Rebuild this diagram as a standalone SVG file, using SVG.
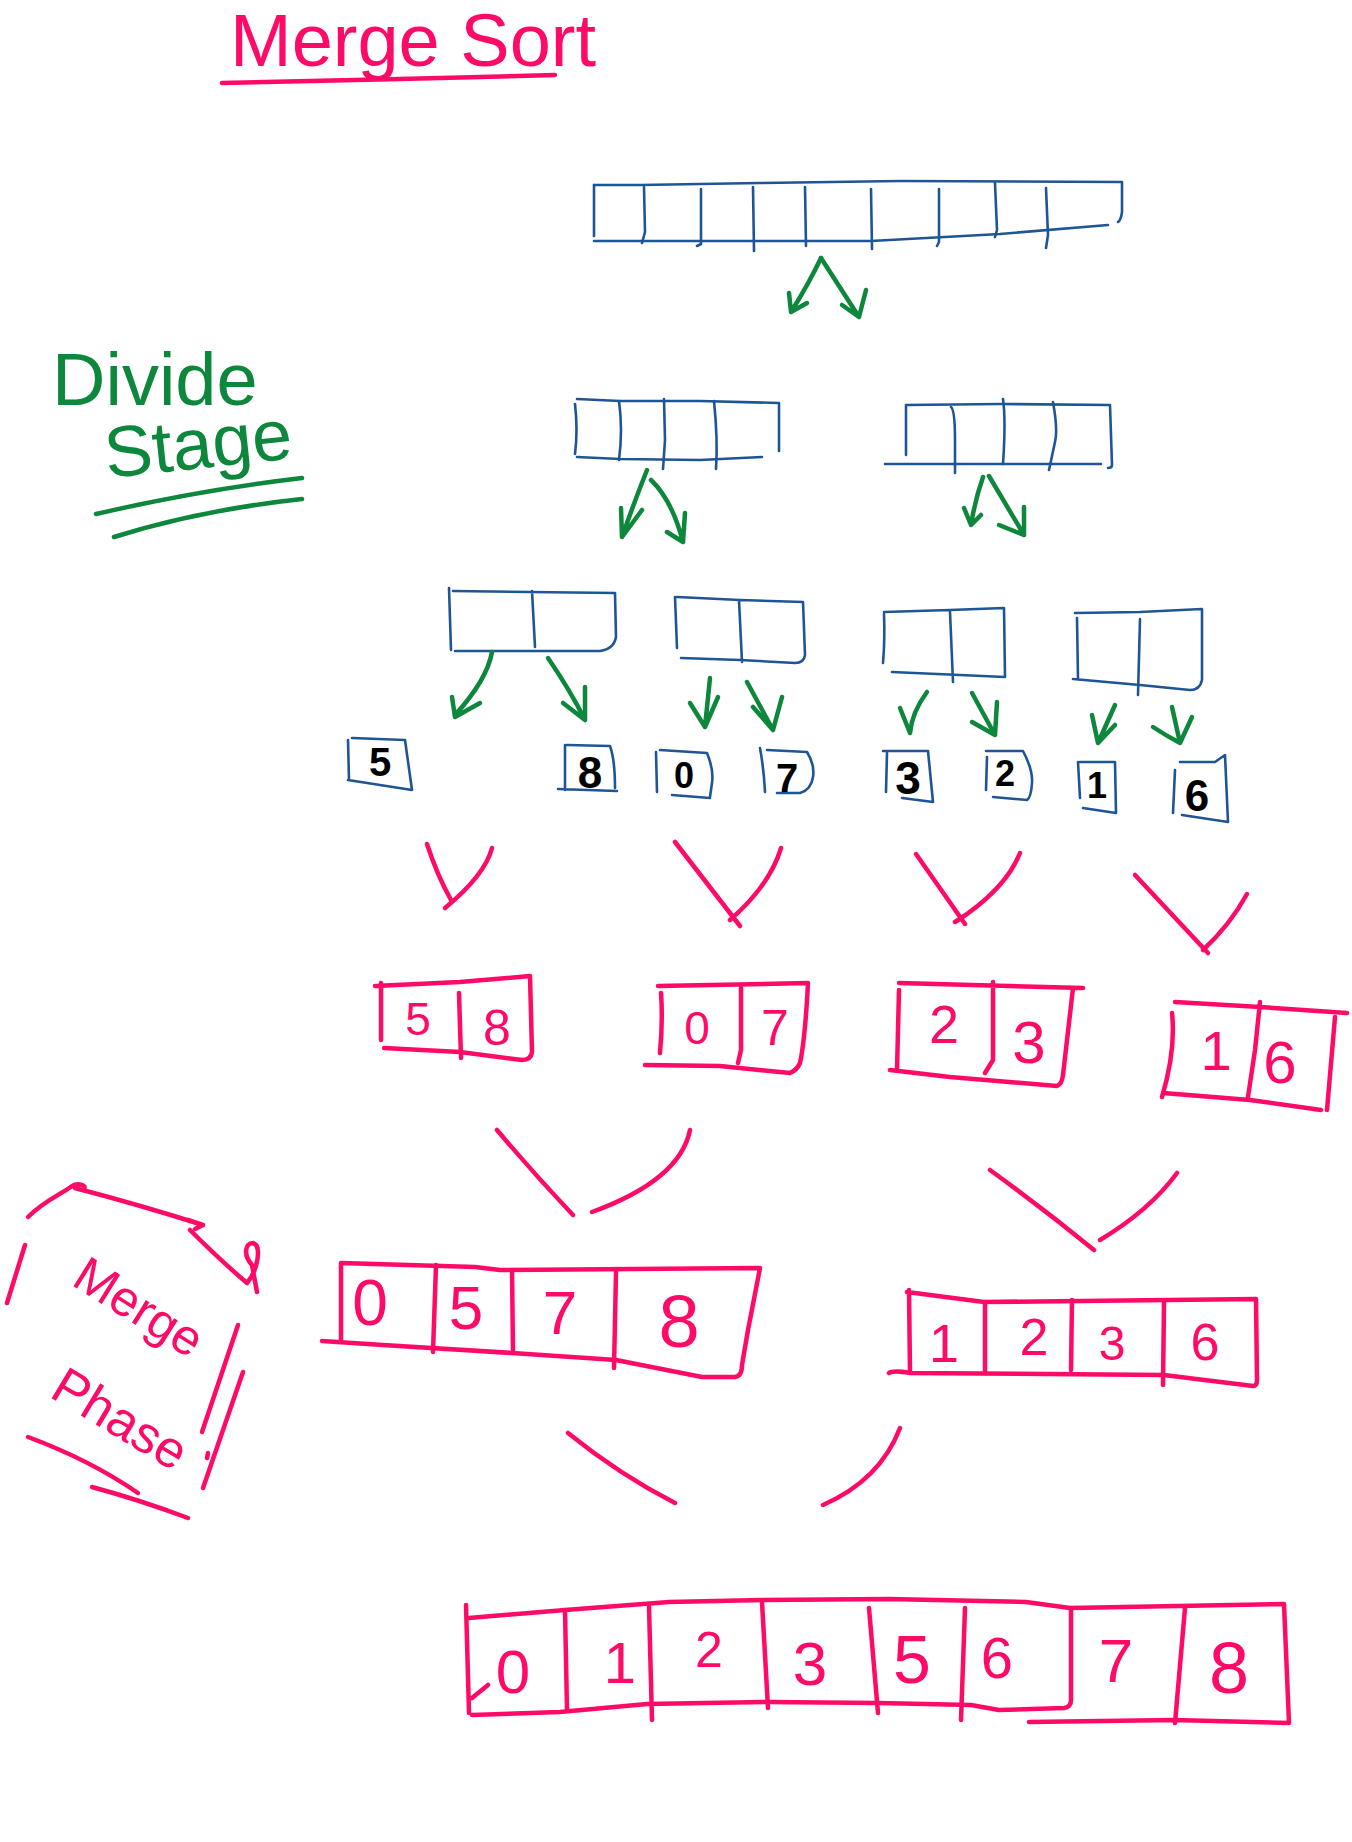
<svg xmlns="http://www.w3.org/2000/svg" width="1352" height="1842" viewBox="0 0 1352 1842">
<style>
.b{fill:none;stroke:#1e5596;stroke-width:2.6;stroke-linecap:round;stroke-linejoin:round}
.g{fill:none;stroke:#0d873c;stroke-width:4.5;stroke-linecap:round;stroke-linejoin:round}
.p{fill:none;stroke:#ff0a66;stroke-width:4.5;stroke-linecap:round;stroke-linejoin:round}
.pt{fill:#ff0a66;font-family:"Liberation Sans",Arial,sans-serif;text-anchor:middle}
.gt{fill:#0d873c;font-family:"Liberation Sans",Arial,sans-serif}
.bk{fill:#000;font-family:"Liberation Sans",Arial,sans-serif;font-weight:bold;text-anchor:middle}
</style>
<rect width="1352" height="1842" fill="#fff"/>

<g id="title">
<text x="230" y="66" font-size="74" fill="#ff0a66" font-family="Liberation Sans, Arial, sans-serif">Merge Sort</text>
<path class="p" d="M222,83 Q300,81 400,79 L555,75"/>
</g>

<g id="divide-stage-label">
<text class="gt" x="52" y="405" font-size="74">Divide</text>
<text class="gt" x="107" y="478" font-size="72" transform="rotate(-6 107 478)">Stage</text>
<path class="g" d="M96,514 Q200,490 302,478"/>
<path class="g" d="M114,537 Q200,510 302,499"/>
</g>

<g id="merge-phase-label">
<text x="70" y="1284" font-size="50" fill="#ff0a66" font-family="Liberation Sans, Arial, sans-serif" transform="rotate(32 70 1284)">Merge</text>
<text x="48" y="1396" font-size="52" fill="#ff0a66" font-family="Liberation Sans, Arial, sans-serif" transform="rotate(31 48 1396)">Phase</text>
<path class="p" d="M28,1217 C45,1200 60,1195 72,1186 C78,1182 90,1186 82,1190 L75,1188 Q140,1205 203,1225 M188,1220 L203,1225 L195,1229"/>
<path class="p" d="M190,1230 Q220,1260 247,1283 C258,1270 262,1245 253,1243 C245,1243 243,1255 252,1265 L257,1292"/>
<path class="p" d="M25,1245 L7,1303"/>
<path class="p" d="M238,1325 L202,1432 M243,1372 L203,1488 M208,1453 L207,1458"/>
<path class="p" d="M28,1437 Q90,1460 138,1493 M92,1487 Q140,1500 188,1518"/>
</g>

<g id="array-9">
<path class="b" d="M594,185 L640,185 L760,183 L900,181 L1122,182 L1122,212 Q1121,220 1118,222"/>
<path class="b" d="M594,185 L594,236 M594,241 L871,241 L1000,234 L1108,225"/>
<path class="b" d="M644,187 L645,232 L642,243 M701,189 L701,244 L697,246 M753,187 L754,251 M805,187 L806,246 M871,189 L872,249 M939,189 L939,242 L937,246 M995,183 L997,230 L995,237 M1046,188 L1048,235 L1046,248"/>
</g>

<g id="array-4a">
<path class="b" d="M577,399 L620,401 L700,401 L779,403 L779,451 M575,404 Q578,430 575,454 M577,457 L620,459 L700,460 L762,457"/>
<path class="b" d="M619,401 Q623,430 619,460 M664,399 L665,440 L663,469 M714,401 Q718,440 716,469"/>
</g>
<g id="array-4b">
<path class="b" d="M906,405 L1000,404 L1110,405 L1112,465 Q1112,468 1108,468 M906,405 L906,455 M885,464 L1101,464"/>
<path class="b" d="M951,407 Q955,410 955,440 L955,473 M1003,399 Q1006,420 1003,464 M1053,402 Q1058,430 1055,442 L1049,470"/>
</g>

<g id="array-2a">
<path class="b" d="M453,591 L615,593 L616,637 Q614,649 600,651 L455,651 M449,588 L451,650 M532,591 L535,647"/>
</g>
<g id="array-2b">
<path class="b" d="M677,597 L740,600 L803,602 L805,655 Q804,663 795,663 L740,660 L681,658 M675,597 L677,648 M739,600 L742,662"/>
</g>
<g id="array-2c">
<path class="b" d="M884,612 L950,610 L1004,608 L1005,677 L892,672 M884,614 Q885,640 883,663 M950,612 L953,682"/>
</g>
<g id="array-2d">
<path class="b" d="M1075,613 L1140,612 L1202,609 L1202,680 Q1200,690 1190,690 L1140,685 L1073,679 M1077,618 L1078,679 M1140,619 L1138,695"/>
</g>

<g id="box-5">
<path class="b" d="M352,738 L405,740 L412,790 L348,780 M348,740 L349,780"/>
<text class="bk" x="380" y="776" font-size="40">5</text>
</g>
<g id="box-8">
<path class="b" d="M567,745 L610,746 Q615,760 615,788 M558,789 L617,791 M565,745 L565,790"/>
<text class="bk" x="590" y="788" font-size="44">8</text>
</g>
<g id="box-0">
<path class="b" d="M660,750 L707,753 Q714,770 712,783 L710,797 M672,795 L710,798 M656,752 L657,792"/>
<text class="bk" x="684" y="788" font-size="36">0</text>
</g>
<g id="box-7">
<path class="b" d="M767,750 L807,752 Q815,765 813,777 Q811,790 800,793 L777,793 M760,748 Q764,770 765,792"/>
<text class="bk" x="787" y="792" font-size="40">7</text>
</g>
<g id="box-3">
<path class="b" d="M883,751 L928,751 L933,802 L902,798 M887,753 L886,792"/>
<text class="bk" x="908" y="794" font-size="46">3</text>
</g>
<g id="box-2">
<path class="b" d="M986,751 L1023,751 Q1033,770 1032,783 Q1031,798 1027,800 L993,797 M987,757 L986,790"/>
<text class="bk" x="1005" y="786" font-size="36">2</text>
</g>
<g id="box-1">
<path class="b" d="M1080,762 L1115,762 L1116,813 L1083,808 M1078,762 L1080,798"/>
<text class="bk" x="1097" y="798" font-size="36">1</text>
</g>
<g id="box-6">
<path class="b" d="M1180,762 L1215,762 L1225,755 L1228,822 L1182,815 M1175,770 L1173,813"/>
<text class="bk" x="1197" y="811" font-size="44">6</text>
</g>

<g id="merged-58">
<path class="p" d="M375,986 L460,982 L530,976 L532,1052 Q531,1060 522,1060 L460,1052 L384,1048 M381,983 L381,1040 M459,993 L461,1058"/>
<text class="pt" x="418" y="1035" font-size="46">5</text>
<text class="pt" x="497" y="1045" font-size="50">8</text>
</g>
<g id="merged-07">
<path class="p" d="M658,986 L808,983 Q805,1040 800,1063 Q797,1070 790,1073 L720,1066 L645,1065 M661,993 Q663,1020 660,1053 M741,988 L741,1050 L738,1063"/>
<text class="pt" x="697" y="1044" font-size="46">0</text>
<text class="pt" x="775" y="1045" font-size="50">7</text>
</g>
<g id="merged-23">
<path class="p" d="M899,983 L1083,988 M1073,988 L1063,1075 Q1062,1084 1057,1086 L950,1077 L890,1070 M899,990 L897,1070 M993,982 L993,1060 L985,1073"/>
<text class="pt" x="944" y="1043" font-size="54">2</text>
<text class="pt" x="1029" y="1063" font-size="60">3</text>
</g>
<g id="merged-16">
<path class="p" d="M1175,1002 L1260,1007 L1347,1013 M1172,1013 Q1176,1050 1162,1097 M1335,1017 L1327,1110 M1163,1093 L1250,1100 L1321,1110 M1260,1002 L1255,1050 L1248,1097"/>
<text class="pt" x="1216" y="1070" font-size="56">1</text>
<text class="pt" x="1280" y="1083" font-size="60">6</text>
</g>

<g id="merged-0578">
<path class="p" d="M341,1263 L475,1267 L500,1270 L760,1268 L748,1330 L742,1365 Q742,1376 735,1377 L702,1377 L616,1360 L512,1353 L383,1345 L322,1341 M341,1263 L341,1340"/>
<path class="p" d="M436,1265 L433,1352 M512,1270 L513,1352 M616,1272 L614,1368"/>
<text class="pt" x="370" y="1325" font-size="64">0</text>
<text class="pt" x="466" y="1329" font-size="62">5</text>
<text class="pt" x="560" y="1334" font-size="62">7</text>
<text class="pt" x="679" y="1347" font-size="74">8</text>
</g>
<g id="merged-1236">
<path class="p" d="M907,1292 L984,1302 L1256,1299 L1257,1380 Q1257,1386 1253,1386 L1164,1375 L910,1373 Q893,1370 889,1373 M909,1290 L910,1373"/>
<path class="p" d="M985,1303 L985,1373 M1072,1300 L1071,1370 M1164,1303 L1163,1385"/>
<text class="pt" x="944" y="1362" font-size="54">1</text>
<text class="pt" x="1034" y="1355" font-size="52">2</text>
<text class="pt" x="1112" y="1360" font-size="48">3</text>
<text class="pt" x="1205" y="1360" font-size="52">6</text>
</g>

<g id="merged-final">
<path class="p" d="M469,1618 L565,1610 L669,1602 L763,1600 L889,1599 L1026,1602 L1070,1608 L1284,1604 L1289,1723 L1174,1720 L1029,1722"/>
<path class="p" d="M466,1605 L469,1713 M472,1715 L560,1712 L647,1704 L768,1702 L878,1703 L971,1705 L999,1710 L1064,1708 Q1071,1707 1071,1700 L1071,1608 M488,1685 L472,1698"/>
<path class="p" d="M565,1610 L567,1710 M649,1607 L652,1720 M762,1602 L768,1708 M869,1608 L878,1713 M965,1608 L961,1720 M1185,1608 L1175,1723"/>
<text class="pt" x="513" y="1693" font-size="62">0</text>
<text class="pt" x="620" y="1683" font-size="58">1</text>
<text class="pt" x="709" y="1667" font-size="50">2</text>
<text class="pt" x="810" y="1685" font-size="62">3</text>
<text class="pt" x="912" y="1683" font-size="68">5</text>
<text class="pt" x="997" y="1678" font-size="58">6</text>
<text class="pt" x="1116" y="1682" font-size="62">7</text>
<text class="pt" x="1229" y="1693" font-size="72">8</text>
</g>

<g id="connectors">
<path class="g" d="M821,258 Q808,285 791,312 M789,293 L791,312 L807,303"/>
<path class="g" d="M821,258 L859,317 M842,305 L859,317 L866,290"/>
<path class="g" d="M647,470 Q635,500 622,537 M621,508 L622,537 L642,510"/>
<path class="g" d="M651,480 Q672,500 683,542 M667,532 L683,542 L685,513"/>
<path class="g" d="M983,477 Q975,500 971,525 M964,508 L971,525 L981,515"/>
<path class="g" d="M989,476 L1024,535 M999,525 L1024,535 L1024,507"/>
<path class="g" d="M492,652 Q487,680 455,715 M452,697 L455,717 L480,703"/>
<path class="g" d="M548,658 Q570,690 585,720 M563,703 L585,720 L585,687"/>
<path class="g" d="M710,678 L705,727 M690,703 L705,727 L718,697"/>
<path class="g" d="M747,682 L773,730 M753,707 L773,730 L782,697"/>
<path class="g" d="M927,692 Q912,712 910,733 M900,708 L910,733"/>
<path class="g" d="M972,693 L995,735 M972,722 L995,735 L997,702"/>
<path class="g" d="M1115,705 L1098,743 M1092,715 L1098,743 L1115,725"/>
<path class="g" d="M1172,707 L1180,743 M1153,727 Q1165,735 1180,743 L1192,717"/>
<path class="p" d="M427,844 Q437,875 451,900 M492,848 Q485,875 445,908"/>
<path class="p" d="M675,842 L740,926 M781,848 Q770,885 730,920"/>
<path class="p" d="M916,854 L965,924 M1020,853 Q1005,890 955,922"/>
<path class="p" d="M1135,875 L1208,953 M1247,894 Q1230,925 1203,950"/>
<path class="p" d="M497,1130 Q535,1175 573,1215 M690,1130 Q680,1180 592,1212"/>
<path class="p" d="M990,1170 Q1045,1210 1094,1250 M1177,1173 Q1150,1210 1100,1240"/>
<path class="p" d="M568,1433 Q620,1475 675,1503 M900,1428 Q880,1480 823,1505"/>
</g>
</svg>
